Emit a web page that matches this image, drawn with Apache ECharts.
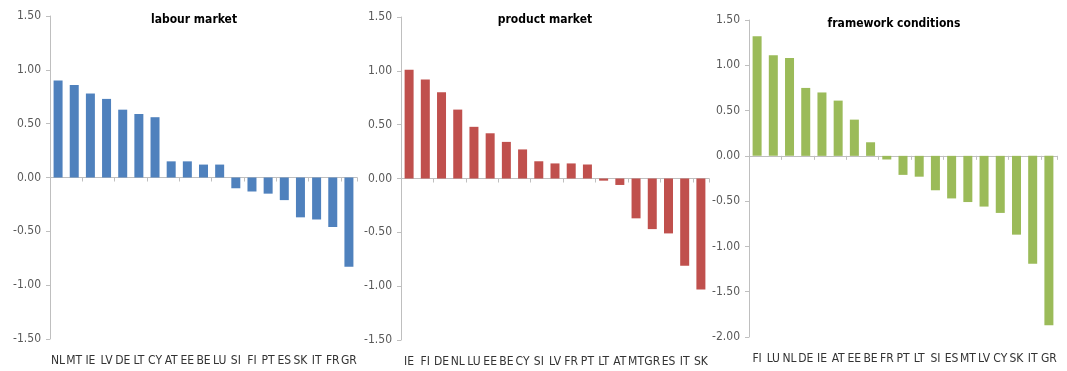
<!DOCTYPE html>
<html>
<head>
<meta charset="utf-8">
<script src="https://cdn.jsdelivr.net/npm/echarts@6/dist/echarts.min.js"></script>
<style>
  html, body { margin: 0; padding: 0; background: #fff; }
  #chart { width: 1067px; height: 371px; }
</style>
</head>
<body>
<div id="chart"></div>
<script>
// Structural indicators by country, three policy areas
const labourCountries = ['NL','MT','IE','LV','DE','LT','CY','AT','EE','BE','LU','SI','FI','PT','ES','SK','IT','FR','GR'];
const labourValues = [0.90, 0.86, 0.78, 0.73, 0.63, 0.59, 0.56, 0.15, 0.15, 0.12, 0.12, -0.10, -0.13, -0.15, -0.21, -0.37, -0.39, -0.46, -0.83];

const productCountries = ['IE','FI','DE','NL','LU','EE','BE','CY','SI','LV','FR','PT','LT','AT','MT','GR','ES','IT','SK'];
const productValues = [1.01, 0.92, 0.80, 0.64, 0.48, 0.42, 0.34, 0.27, 0.16, 0.14, 0.14, 0.13, -0.02, -0.06, -0.37, -0.47, -0.51, -0.81, -1.03];

const frameworkCountries = ['FI','LU','NL','DE','IE','AT','EE','BE','FR','PT','LT','SI','ES','MT','LV','CY','SK','IT','GR'];
const frameworkValues = [1.32, 1.11, 1.08, 0.75, 0.70, 0.61, 0.40, 0.15, -0.04, -0.21, -0.23, -0.38, -0.47, -0.51, -0.56, -0.63, -0.87, -1.19, -1.87];

const titles = ['labour market', 'product market', 'framework conditions'];
const yTickMin = [-1.5, -1.5, -2.0];
const yTickMax = [1.5, 1.5, 1.5];
const yTickStep = 0.5;

const panels = [
  { cats: labourCountries, vals: labourValues, color: '#4f81bd', left: 50, top: 16, width: 307, height: 323, titleX: 189, titleY: 9 },
  { cats: productCountries, vals: productValues, color: '#c0504d', left: 401, top: 17, width: 308, height: 323, titleX: 540, titleY: 9 },
  { cats: frameworkCountries, vals: frameworkValues, color: '#9bbb59', left: 749, top: 20, width: 308, height: 317, titleX: 889, titleY: 13 }
];

const labelFont = '"DejaVu Sans Condensed", "Liberation Sans", sans-serif';
const axisGray = '#bfbfbf';
const textGray = '#595959';

const option = {
  animation: false,
  backgroundColor: '#ffffff',
  title: [],
  grid: [],
  xAxis: [],
  yAxis: [],
  series: []
};

panels.forEach((p, i) => {
  option.title.push({
    text: titles[i],
    left: p.titleX,
    top: p.titleY,
    textAlign: 'center',
    textStyle: { fontFamily: labelFont, fontSize: 12, fontWeight: 'bold', color: '#000' }
  });
  option.grid.push({ left: p.left, top: p.top, width: p.width, height: p.height, containLabel: false });

  // axis line and ticks at zero
  option.xAxis.push({
    type: 'category', gridIndex: i, data: p.cats,
    axisLine: { onZero: true, lineStyle: { color: axisGray, width: 1 } },
    axisTick: { show: true, alignWithLabel: false, length: 4, lineStyle: { color: axisGray } },
    axisLabel: { show: false },
    splitLine: { show: false }
  });
  // country labels along the bottom edge
  option.xAxis.push({
    type: 'category', gridIndex: i, data: p.cats, position: 'bottom',
    axisLine: { show: false, onZero: false },
    axisTick: { show: false },
    axisLabel: { show: true, interval: 0, margin: 16, fontFamily: labelFont, fontSize: 12, color: '#333' },
    splitLine: { show: false }
  });

  option.yAxis.push({
    type: 'value', gridIndex: i,
    min: yTickMin[i], max: yTickMax[i], interval: yTickStep,
    axisLine: { show: true, lineStyle: { color: axisGray } },
    axisTick: { show: true, length: 4, lineStyle: { color: axisGray } },
    axisLabel: { fontFamily: labelFont, fontSize: 12, color: textGray, margin: 9, formatter: v => v.toFixed(2) },
    splitLine: { show: false }
  });

  option.series.push({
    type: 'bar',
    xAxisIndex: i * 2,
    yAxisIndex: i,
    data: p.vals,
    barWidth: 9,
    itemStyle: { color: p.color },
    emphasis: { disabled: true }
  });
});

const chart = echarts.init(document.getElementById('chart'), null, { renderer: 'canvas' });
chart.setOption(option);
</script>
</body>
</html>
